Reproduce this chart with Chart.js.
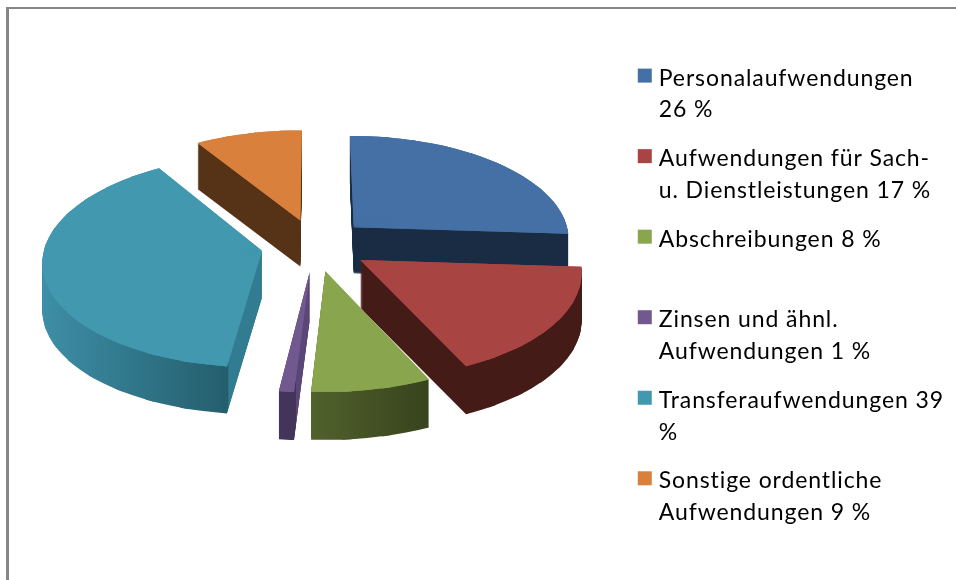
<!DOCTYPE html>
<html><head><meta charset="utf-8">
<style>html,body{margin:0;padding:0;background:#fff}canvas{display:block}</style>
<script src="https://cdn.jsdelivr.net/npm/chart.js@4"></script>
</head><body><canvas id="c" width="956" height="580"></canvas>
<script>
const categories = [
  ["Personalaufwendungen","26 %"],
  ["Aufwendungen für Sach-","u. Dienstleistungen 17 %"],
  ["Abschreibungen 8 %",""],
  ["Zinsen und ähnl.","Aufwendungen 1 %"],
  ["Transferaufwendungen 39","%"],
  ["Sonstige ordentliche","Aufwendungen 9 %"]
];
const values = [26,17,8,1,39,9];
const topColors = ["#4470a5","#a84543","#89a54e","#71588f","#4198af","#d9813c"];
const sideStops = [
  [[0,"#1a2c44"],[1,"#1a2c44"]],
  [[0,"#451b18"],[1,"#451b18"]],
  [[0,"#50612c"],[1,"#37431d"]],
  [[0,"#45345a"],[0.5,"#45345a"],[0.51,"#5b4678"],[1,"#5b4678"]],
  [[0,"#3d8ea6"],[0.84,"#245e6d"],[0.845,"#317c90"],[1,"#317c90"]],
  [[0,"#563317"],[1,"#563317"]]
];
const sideRange = [[350,570],[360,585],[312,431],[280,312],[43,263],[197,303]];
const drawOrder = [5,0,4,1,3,2];
const view = {cx:315, cy:245, k:0.485, p:0.00045, explode:54, depth:47, step:Math.PI/18, seam:0.04};

function project(X,Y){const s=1+view.p*Y;return [view.cx+X*s, view.cy+view.k*Y*s, s];}

const pie3d = {
  id:'pie3d',
  beforeLayout(chart){chart.ctx.letterSpacing='0.9px';},
  beforeDraw(chart){
    const c=chart.ctx;c.save();c.fillStyle='#868686';
    c.fillRect(6,7,950,2);c.fillRect(6,7,3,573);c.restore();
    c.letterSpacing='0.9px';
  },
  beforeDatasetDraw(chart,args){
    const ctx=chart.ctx, arcs=args.meta.data;
    drawOrder.forEach(i=>{
      const arc=arcs[i], R=arc.outerRadius, t0=arc.startAngle, t9=arc.endAngle, m=(t0+t9)/2;
      const ox=Math.cos(m)*view.explode, oy=Math.sin(m)*view.explode;
      const Q0=project(ox,oy);
      const e=Q0[0],f=Q0[1];
      const n=Math.max(1,Math.ceil((t9-t0)/view.step));
      const [xa,xb]=sideRange[i];
      const pieces=[];
      for(let j=0;j<n;j++){
        const t1=t0+(t9-t0)*j/n, t2=t0+(t9-t0)*(j+1)/n;
        const u1=R*Math.cos(t1),v1=R*Math.sin(t1),u2=R*Math.cos(t2),v2=R*Math.sin(t2);
        const Q1=project(ox+u1,oy+v1),Q2=project(ox+u2,oy+v2);
        const det=u1*v2-u2*v1;
        const dx1=Q1[0]-e,dy1=Q1[1]-f,dx2=Q2[0]-e,dy2=Q2[1]-f;
        const a=(dx1*v2-dx2*v1)/det,c=(dx2*u1-dx1*u2)/det,b=(dy1*v2-dy2*v1)/det,d=(dy2*u1-dy1*u2)/det;
        const nn=a*a+c*c;
        const g=ctx.createLinearGradient(arc.x+(xa-e)*a/nn,arc.y+(xa-e)*c/nn,arc.x+(xb-e)*a/nn,arc.y+(xb-e)*c/nn);
        sideStops[i].forEach(s=>g.addColorStop(s[0],s[1]));
        const piece=Object.create(arc);
        piece.startAngle=t1;
        piece.endAngle=Math.min(t9,t2+view.seam);
        piece.circumference=piece.endAngle-t1;
        pieces.push({piece,m:[a,b,c,d],g});
      }
      const depth=Math.round(view.depth*Q0[2]);
      const top=arc.options.backgroundColor;
      for(let h=depth;h>=-1;h--){
        pieces.forEach(p=>{
          ctx.save();
          ctx.translate(0,Math.max(h,0));
          ctx.transform(p.m[0],p.m[1],p.m[2],p.m[3],e,f);
          ctx.translate(-arc.x,-arc.y);
          arc.options.backgroundColor=h<=0?top:p.g;
          p.piece.draw(ctx);
          ctx.restore();
        });
      }
      arc.options.backgroundColor=top;
    });
    return false;
  },
  afterDraw(chart){
    const c=chart.ctx,l=chart.legend;
    c.save();
    l.legendHitBoxes.forEach((b,i)=>{c.fillStyle=topColors[i];c.fillRect(b.left,b.top+2,14,14);});
    c.restore();
  }
};

new Chart(document.getElementById('c'),{
  type:'pie',
  data:{labels:categories.map(l=>l.join(' ').trim()),
        datasets:[{data:values,backgroundColor:topColors,borderWidth:0}]},
  options:{
    responsive:false,animation:false,radius:217,
    layout:{padding:{top:50,right:2}},
    plugins:{
      tooltip:{enabled:false},
      legend:{position:'right',align:'start',
        labels:{boxWidth:9.5,boxHeight:16,padding:16.6,color:'#000',
          font:{family:'Lato',size:23,lineHeight:1.39},
          generateLabels:()=>categories.map((t,i)=>({text:t,fillStyle:'rgba(0,0,0,0)',strokeStyle:'rgba(0,0,0,0)',lineWidth:0,hidden:false,index:i}))
        }}
    }
  },
  plugins:[pie3d]
});
</script></body></html>
